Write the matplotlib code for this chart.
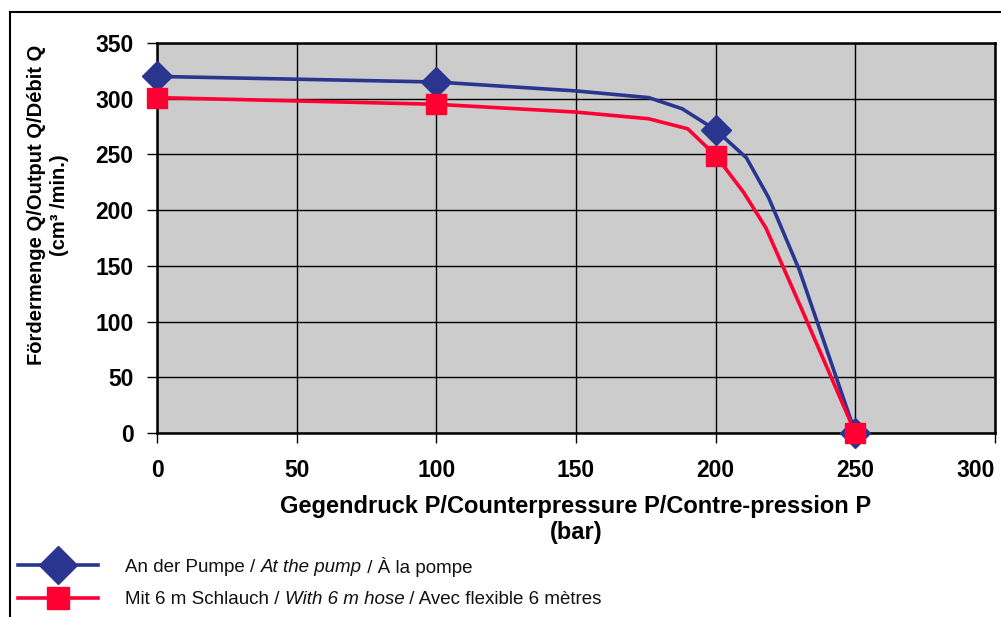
import matplotlib
matplotlib.use('Agg')
import matplotlib.pyplot as plt
from matplotlib.lines import Line2D
from matplotlib.transforms import ScaledTranslation

pump_curve_x = [0, 100, 150, 176, 188, 200, 211, 219, 230, 250]
pump_curve_y = [320, 315, 307, 301, 291, 272, 247, 211, 146, 0]
hose_curve_x = [0, 100, 150, 176, 190, 200, 210, 218, 231, 250]
hose_curve_y = [301, 295, 288, 282, 273, 249, 216, 184, 110, 0]

marker_x = [0, 100, 200, 250]
pump_marker_y = [320, 315, 272, 0]
hose_marker_y = [301, 295, 249, 0]

x_ticks = [0, 50, 100, 150, 200, 250, 300]
y_ticks = [0, 50, 100, 150, 200, 250, 300, 350]

BLUE = '#2A3590'
RED = '#FF0033'

plt.rcParams['font.family'] = ['Liberation Sans', 'DejaVu Sans']

fig = plt.figure(figsize=(10.01, 6.17), dpi=100)
W, H = 1001, 617
ax = fig.add_axes([157 / W, 1 - 433 / H, (995 - 157) / W, (433 - 43) / H])
ax.set_facecolor('#CCCCCC')

ax.plot(pump_curve_x, pump_curve_y, color=BLUE, lw=2.6, zorder=3, solid_joinstyle='round')
ax.plot(hose_curve_x, hose_curve_y, color=RED, lw=2.6, zorder=3, solid_joinstyle='round')
ax.plot(marker_x, pump_marker_y, ls='none', marker='D', ms=15, color=BLUE, zorder=4, clip_on=False)
ax.plot(marker_x, hose_marker_y, ls='none', marker='s', ms=15, color=RED, zorder=5, clip_on=False)

ax.set_xlim(0, 300)
ax.set_ylim(0, 350)
ax.set_xticks(x_ticks)
ax.set_yticks(y_ticks)
ax.grid(True, color='black', lw=1.0)
ax.set_axisbelow(True)
for s in ax.spines.values():
    s.set_linewidth(1.8)
ax.tick_params(direction='out', length=7, width=1.0, labelsize=16.5)
ax.tick_params(axis='y', pad=10)
ax.tick_params(axis='x', pad=12)
for lab in ax.get_xticklabels() + ax.get_yticklabels():
    lab.set_fontweight('bold')
# last x label sits inside the figure like in the original
last = ax.get_xticklabels()[-1]
last.set_transform(last.get_transform() + ScaledTranslation(-19 / 100, 0, fig.dpi_scale_trans))

ax.set_xlabel('Gegendruck P/Counterpressure P/Contre-pression P\n(bar)',
              fontsize=17, fontweight='bold', labelpad=9, linespacing=1.15)
fig.text(48 / W, 1 - 205 / H, 'Fördermenge Q/Output Q/Débit Q\n(cm³ /min.)',
         rotation=90, ha='center', va='center', fontsize=14.5, fontweight='bold',
         multialignment='center', linespacing=1.25)

# outer frame (top and left edges)
fig.add_artist(Line2D([10 / W, 1], [1 - 12 / H, 1 - 12 / H], color='black', lw=1.5, transform=fig.transFigure))
fig.add_artist(Line2D([10 / W, 10 / W], [0, 1 - 12 / H], color='black', lw=1.5, transform=fig.transFigure))

# legend drawn by hand so the italic parts can be mixed in
rows = [
    (565, BLUE, 'D', [('An der Pumpe / ', 'normal'), ('At the pump', 'italic'), (' / À la pompe', 'normal')]),
    (598, RED, 's', [('Mit 6 m Schlauch / ', 'normal'), ('With 6 m hose', 'italic'), (' / Avec flexible 6 mètres', 'normal')]),
]
renderer = fig.canvas.get_renderer()
for ypx, col, mk, parts in rows:
    yf = 1 - ypx / H
    fig.add_artist(Line2D([18 / W, 98 / W], [yf, yf], color=col, lw=2.6, transform=fig.transFigure))
    fig.add_artist(Line2D([58 / W], [yf], marker=mk, ms=19 if mk == 'D' else 16, color=col,
                          transform=fig.transFigure))
    xpx = 125
    for txt, style in parts:
        t = fig.text(xpx / W, yf, txt, fontsize=13.5, fontstyle=style, va='center_baseline', ha='left',
                     color='#111111')
        xpx += t.get_window_extent(renderer).width

fig.savefig('out.png', dpi=100)
